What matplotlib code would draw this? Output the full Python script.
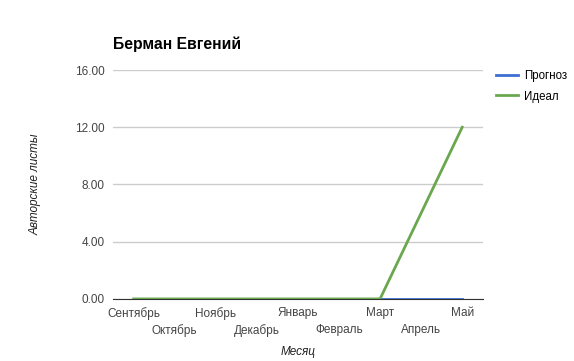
import matplotlib.pyplot as plt

plt.rcParams['font.family'] = ['Liberation Sans', 'DejaVu Sans']

months = ['Сентябрь', 'Октябрь', 'Ноябрь', 'Декабрь', 'Январь',
          'Февраль', 'Март', 'Апрель', 'Май']
forecast = [0, 0, 0, 0, 0, 0, 0, 0, 0]
ideal = [0, 0, 0, 0, 0, 0, 0, 6, 12]
yticks = [0, 4, 8, 12, 16]

fig = plt.figure(figsize=(5.74, 3.61), dpi=100)
ax = fig.add_axes([0.197, 0.172, 0.644, 0.634])

x = list(range(len(months)))
ax.plot(x, forecast, color='#3c6fd1', linewidth=2, label='Прогноз', zorder=3)
ax.plot(x, ideal, color='#6aa84f', linewidth=2, label='Идеал', zorder=4)

ax.set_xlim(-0.5, len(months) - 0.5)
ax.set_ylim(0, 16)
ax.set_yticks(yticks)
ax.set_yticklabels([f'{v:.2f}' for v in yticks])
ax.grid(axis='y', color='#cccccc', linewidth=1)
ax.set_axisbelow(True)
for s in ['top', 'right', 'left']:
    ax.spines[s].set_visible(False)
ax.spines['bottom'].set_color('#333333')
ax.tick_params(which='both', length=0, labelsize=8.5, colors='#444444', pad=6)

# staggered month labels: even ones on the first row, odd ones below
ax.set_xticks(x[::2])
ax.set_xticklabels(months[::2])
ax.set_xticks(x[1::2], minor=True)
ax.set_xticklabels(months[1::2], minor=True)
ax.tick_params(axis='x', which='minor', pad=18)

fig.text(298 / 574, 1 - 352 / 361, 'Месяц', style='italic', fontsize=8.5,
         color='#222222', ha='center', va='center')
ax.set_ylabel('Авторские листы', style='italic', fontsize=8.5, color='#222222', labelpad=24)

fig.text(113 / 574, 1 - 44 / 361, 'Берман Евгений', fontsize=11.3, fontweight='bold',
         va='center', ha='left')

fig.legend(loc='upper left', bbox_to_anchor=(493 / 574, 1 - 67 / 361), frameon=False,
           fontsize=8.3, handlelength=1.9, handletextpad=0.5, labelspacing=0.7,
           borderaxespad=0, borderpad=0.3)

fig.savefig('out.png', dpi=100)
